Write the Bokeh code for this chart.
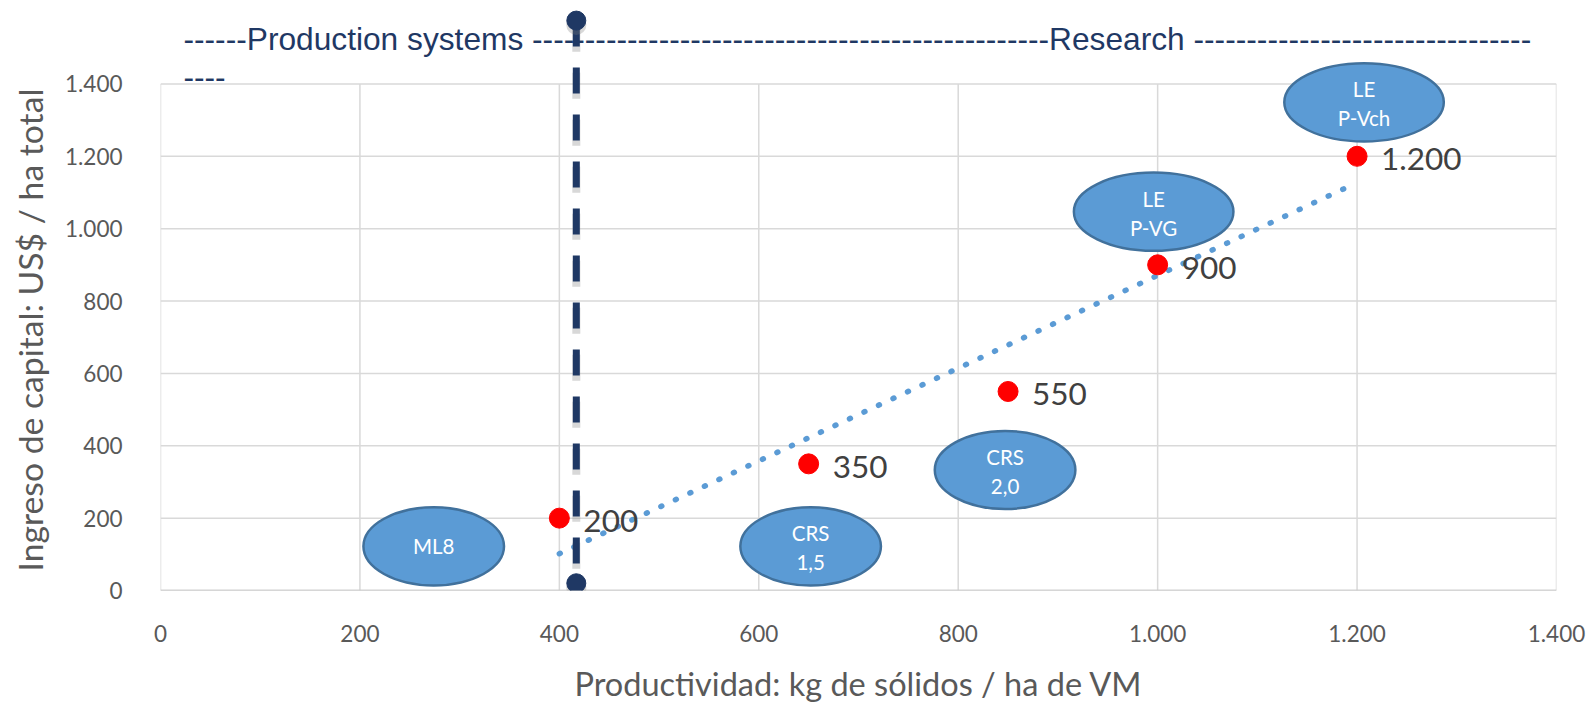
import numpy as np
from bokeh.plotting import figure
from bokeh.models import Range1d, FixedTicker, ColumnDataSource, Title
from bokeh.core.properties import value
from bokeh.embed import file_html
from bokeh.resources import INLINE

# ---------------- data ----------------
x_vals = [400, 650, 850, 1000, 1200]
y_vals = [200, 350, 550, 900, 1200]

x_ticks = [0, 200, 400, 600, 800, 1000, 1200, 1400]
y_ticks = [0, 200, 400, 600, 800, 1000, 1200, 1400]

ell_x = [274, 652, 847, 996, 1207]
ell_y = [122, 122, 333, 1047, 1349]
ell_w = [141, 141, 141, 160, 160]
ell_h = [216, 216, 216, 216, 216]
ell_line1 = ["ML8", "CRS", "CRS", "LE", "LE"]
ell_line2 = ["", "1,5", "2,0", "P-VG", "P-Vch"]

divider_x = 417
divider_y = [1575, 20]

title_line1 = "------Production systems " + "-" * 49 + "Research " + "-" * 32
title_line2 = "----"

x_title = "Productividad: kg de sólidos / ha de VM"
y_title = "Ingreso de capital: US$ / ha total"


def fmt(v):
    return f"{v:,}".replace(",", ".")


# ---------------- figure ----------------
p = figure(frame_width=1396, frame_height=582,
           x_range=Range1d(0, 1400), y_range=Range1d(0, 1608.4),
           output_backend="svg", toolbar_location=None,
           min_border_left=160, min_border_right=30,
           min_border_top=8, min_border_bottom=112)
p.outline_line_color = None
p.background_fill_color = "white"
p.border_fill_color = "white"
p.xgrid.visible = False
p.ygrid.visible = False

for ax, ticks in ((p.xaxis, x_ticks), (p.yaxis, y_ticks)):
    ax.ticker = FixedTicker(ticks=ticks)
    ax.bounds = (ticks[0], ticks[-1])
    ax.major_label_overrides = {t: fmt(t) for t in ticks}
    ax.axis_line_color = None
    ax.major_tick_line_color = None
    ax.minor_tick_line_color = None
    ax.major_tick_out = 0
    ax.major_tick_in = 0
    ax.major_label_text_font = "Lato"
    ax.major_label_text_font_size = "22.5px"
    ax.major_label_text_color = "#595959"
    ax.axis_label_text_font = "Lato"
    ax.axis_label_text_font_size = "32.5px"
    ax.axis_label_text_font_style = "normal"
    ax.axis_label_text_color = "#595959"

p.xaxis.major_label_standoff = 34
p.yaxis.major_label_standoff = 38
p.xaxis.axis_label = x_title
p.xaxis.axis_label_standoff = 19

# y-axis title, placed along the gridded part of the axis
p.add_layout(Title(text=y_title, align="left", offset=19, standoff=19,
                   vertical_align="top", text_line_height=0.75,
                   text_font="Lato", text_font_size="33.7px",
                   text_font_style="normal", text_color="#595959"), "left")

# grid lines
p.segment(x0=x_ticks, y0=0, x1=x_ticks, y1=y_ticks[-1],
          line_color="#D9D9D9", line_width=1.5)
p.segment(x0=0, y0=y_ticks, x1=x_ticks[-1], y1=y_ticks,
          line_color="#D9D9D9", line_width=1.5)
p.segment(x0=[0], y0=[0], x1=[x_ticks[-1]], y1=[0],
          line_color="#BFBFBF", line_width=1.5)

# trend line (linear fit of the series)
coef = np.polyfit(x_vals, y_vals, 1)
tx = [min(x_vals), max(x_vals)]
ty = list(np.polyval(coef, tx))
p.line(tx, ty, line_color="#5B9BD5", line_width=5.5, line_dash="1 15",
       line_cap="round")

# divider line with shadow
p.line([divider_x, divider_x], [divider_y[0] - 14, divider_y[1] - 14],
       line_color="#7F7F7F", line_alpha=0.3, line_width=8, line_dash="26 21")
p.line([divider_x, divider_x], divider_y, line_color="#1F3864",
       line_width=7, line_dash="26 21")
p.scatter([divider_x, divider_x], [v - 12 for v in divider_y], size=20,
          fill_color="#7F7F7F", fill_alpha=0.3, line_color=None)
p.scatter([divider_x, divider_x], divider_y, size=19,
          fill_color="#1F3864", line_color="#1F3864")

# ellipses
esrc = ColumnDataSource(dict(x=ell_x, y=ell_y, w=ell_w, h=ell_h,
                             l1=ell_line1, l2=ell_line2,
                             o1=[0 if s == "" else -13 for s in ell_line2],
                             o2=[16] * len(ell_line2)))
p.ellipse(x="x", y="y", width="w", height="h", source=esrc,
          fill_color="#5B9BD5", line_color="#41719C", line_width=2.5)
p.text(x="x", y="y", text="l1", y_offset="o1", source=esrc,
       text_align="center", text_baseline="middle",
       text_font=value("Lato"), text_font_size="20.5px", text_color="white")
p.text(x="x", y="y", text="l2", y_offset="o2", source=esrc,
       text_align="center", text_baseline="middle",
       text_font=value("Lato"), text_font_size="20.5px", text_color="white")

# data points and labels
psrc = ColumnDataSource(dict(x=x_vals, y=y_vals,
                             lab=[fmt(v) for v in y_vals]))
p.scatter(x="x", y="y", source=psrc, size=20, fill_color="#FF0000",
          line_color="#FF0000")
p.text(x="x", y="y", text="lab", source=psrc, x_offset=24, y_offset=3,
       text_align="left", text_baseline="middle",
       text_font=value("Lato"), text_font_size="31.5px", text_color="#404040")

# header text
p.text(x=[23], y=[1524], text=[title_line1], text_align="left",
       text_baseline="middle", text_font=value("Liberation Sans"),
       text_font_size="31.7px", text_color="#1F3864")
p.text(x=[23], y=[1420], text=[title_line2], text_align="left",
       text_baseline="middle", text_font=value("Liberation Sans"),
       text_font_size="31.7px", text_color="#1F3864")

open("out.html", "w").write(file_html(p, INLINE))
